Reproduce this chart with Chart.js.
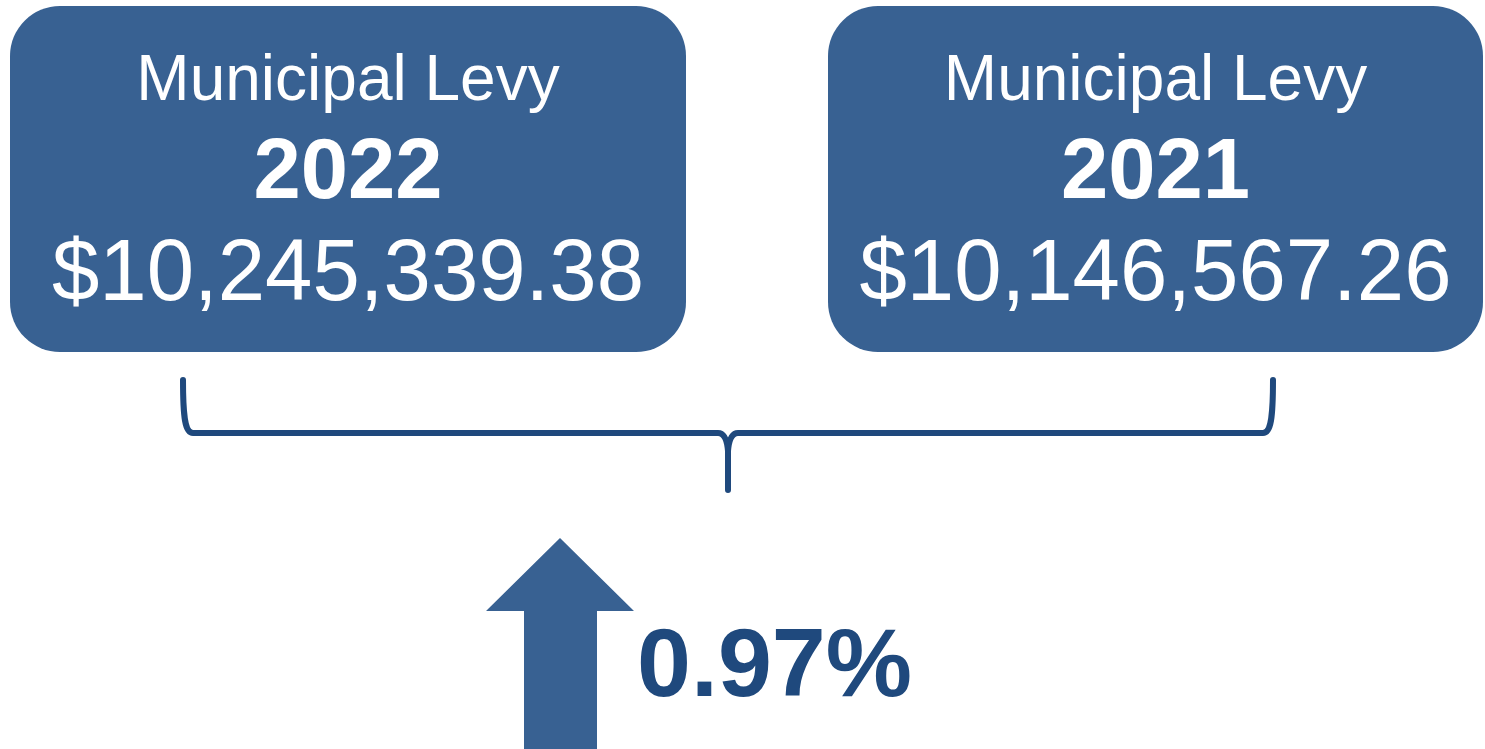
<!DOCTYPE html>
<html>
<head>
<meta charset="utf-8">
<script src="https://cdn.jsdelivr.net/npm/chart.js@4/dist/chart.umd.min.js"></script>
<style>
  html, body { margin: 0; padding: 0; background: #ffffff; }
  #wrap { width: 1485px; height: 749px; position: relative; }
</style>
</head>
<body>
<div id="wrap"><canvas id="levyChart"></canvas></div>
<script>
// values
const years = ["2022", "2021"];
const levies = [10245339.38, 10146567.26];
const heading = "Municipal Levy";
const changePct = [0.97];

const boxColor = "#386192";
const darkBlue = "#1f497d";
const font = "'Liberation Sans', Arial, sans-serif";

// where each card sits (left card = current year)
const cards = [
    { x: 10, y: 6, w: 676, h: 346 },
    { x: 828, y: 6, w: 655, h: 346 }
];

function money(v) {
    return "$" + v.toLocaleString("en-US", { minimumFractionDigits: 2, maximumFractionDigits: 2 });
}

// draw text squeezed to a given ink width if it is wider
function fitText(ctx, txt, cx, y, maxW) {
    const w = ctx.measureText(txt).width;
    const sx = w > maxW ? maxW / w : 1;
    ctx.save();
    ctx.translate(cx, y);
    ctx.scale(sx, 1);
    ctx.fillText(txt, 0, 0);
    ctx.restore();
}

const levyPlugin = {
    id: "levyGraphic",
    afterDraw(chart) {
        const ctx = chart.ctx;
        ctx.save();

        // cards
        cards.forEach((c, i) => {
            ctx.fillStyle = boxColor;
            ctx.beginPath();
            ctx.roundRect(c.x, c.y, c.w, c.h, 50);
            ctx.fill();

            const cx = c.x + c.w / 2;
            ctx.fillStyle = "#ffffff";
            ctx.textAlign = "center";
            ctx.textBaseline = "alphabetic";
            ctx.font = "64px " + font;
            ctx.fillText(heading, cx, 100);
            ctx.font = "bold 85px " + font;
            ctx.fillText(years[i], cx, 198);
            ctx.font = "87px " + font;
            fitText(ctx, money(levies[i]), cx, 300, 592);
        });

        // brace joining the two cards
        const lx = 183, rx = 1273, mx = 728, top = 380, by = 433, tip = 490;
        ctx.strokeStyle = darkBlue;
        ctx.lineWidth = 6;
        ctx.lineCap = "round";
        ctx.lineJoin = "round";
        ctx.beginPath();
        ctx.moveTo(lx, top);
        ctx.bezierCurveTo(lx, 418, lx + 2, by, lx + 10, by);
        ctx.lineTo(mx - 10, by);
        ctx.bezierCurveTo(mx - 4, by, mx - 1, by + 6, mx, by + 18);
        ctx.lineTo(mx, tip);
        ctx.moveTo(mx, by + 18);
        ctx.bezierCurveTo(mx + 1, by + 6, mx + 4, by, mx + 10, by);
        ctx.lineTo(rx - 10, by);
        ctx.bezierCurveTo(rx - 2, by, rx, 418, rx, top);
        ctx.stroke();

        // arrow, pointing by the sign of the change
        const up = changePct[0] >= 0;
        ctx.fillStyle = boxColor;
        ctx.beginPath();
        if (up) {
            ctx.moveTo(560, 538);
            ctx.lineTo(634, 611);
            ctx.lineTo(597, 611);
            ctx.lineTo(597, 760);
            ctx.lineTo(524, 760);
            ctx.lineTo(524, 611);
            ctx.lineTo(486, 611);
        } else {
            ctx.moveTo(560, 749);
            ctx.lineTo(634, 676);
            ctx.lineTo(597, 676);
            ctx.lineTo(597, 538);
            ctx.lineTo(524, 538);
            ctx.lineTo(524, 676);
            ctx.lineTo(486, 676);
        }
        ctx.closePath();
        ctx.fill();

        ctx.fillStyle = darkBlue;
        ctx.textAlign = "left";
        ctx.font = "bold 97px " + font;
        ctx.fillText(changePct[0].toFixed(2) + "%", 637, 696);

        ctx.restore();
    }
};

new Chart(document.getElementById("levyChart"), {
    type: "bar",
    data: {
        labels: years,
        datasets: [{ data: [], label: heading }]
    },
    options: {
        responsive: true,
        maintainAspectRatio: false,
        animation: false,
        layout: { padding: 0 },
        plugins: {
            legend: { display: false },
            tooltip: { enabled: false }
        },
        scales: {
            x: { display: false },
            y: { display: false }
        }
    },
    plugins: [levyPlugin]
});
</script>
</body>
</html>
